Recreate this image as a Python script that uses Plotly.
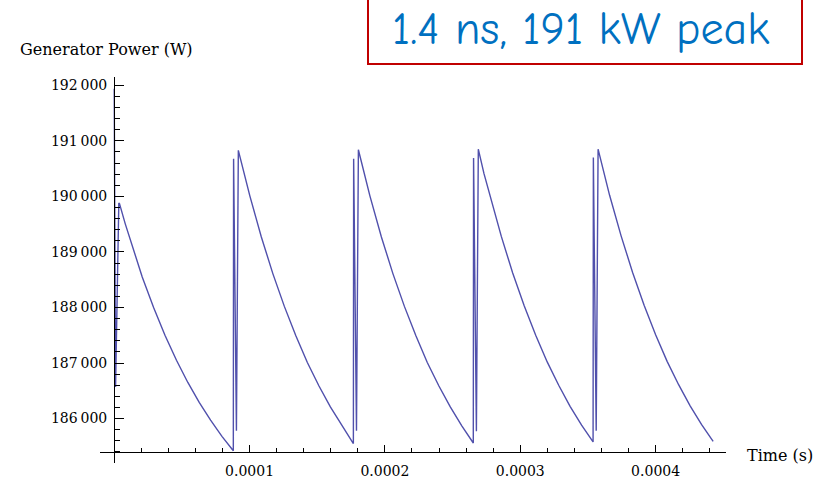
import plotly.graph_objects as go

# ---- data (time in microseconds, power in W) ----
time_us = [
    0.0, 1.0, 3.4,
    3.9, 8.1, 12.3, 20.7, 29.1, 37.5, 46.0, 54.4, 62.8, 71.2, 79.6, 88.0,
    88.2, 90.3,
    91.7, 96.0, 100.2, 108.7, 117.2, 125.7, 134.2, 142.7, 151.2, 159.7, 168.2, 176.7,
    176.9, 179.0,
    180.4, 184.6, 188.9, 197.4, 205.9, 214.4, 222.9, 231.3, 239.8, 248.3, 256.8, 265.3,
    265.5, 267.6,
    269.0, 273.2, 277.5, 286.0, 294.4, 302.9, 311.4, 319.9, 328.4, 336.8, 345.3, 353.8,
    354.0, 356.1,
    357.5, 361.8, 366.0, 374.5, 383.0, 391.5, 400.0, 408.5, 417.0, 425.5, 434.0, 442.5,
]
power_w = [
    191940, 186570, 189880,
    189870, 189510, 189180, 188550, 188000, 187500, 187050, 186650, 186290, 185970, 185680, 185420,
    190680, 185780,
    190830, 190400, 190010, 189270, 188610, 188020, 187490, 187010, 186590, 186210, 185870, 185550,
    190680, 185780,
    190840, 190410, 190010, 189270, 188610, 188020, 187490, 187010, 186590, 186210, 185870, 185560,
    190690, 185770,
    190850, 190410, 190020, 189280, 188620, 188030, 187500, 187020, 186600, 186220, 185880, 185580,
    190700, 185780,
    190850, 190420, 190020, 189290, 188630, 188040, 187510, 187030, 186610, 186230, 185890, 185590,
]

x_tick_vals = [0.0001, 0.0002, 0.0003, 0.0004]
x_tick_text = ["0.0001", "0.0002", "0.0003", "0.0004"]
y_tick_vals = [186000, 187000, 188000, 189000, 190000, 191000, 192000]
y_tick_text = ["186\u2009000", "187\u2009000", "188\u2009000", "189\u2009000",
               "190\u2009000", "191\u2009000", "192\u2009000"]

title_text = "1.4 ns, 191 kW peak"
y_label = "Generator Power (W)"
x_label = "Time (s)"

time_s = [t * 1e-6 for t in time_us]

X_RANGE = [-0.0000105, 0.000452]
Y_RANGE = [185200, 192150]

fig = go.Figure()
fig.add_trace(go.Scatter(
    x=time_s, y=power_w, mode="lines",
    line=dict(color="#5050ac", width=1.4),
    hoverinfo="skip", showlegend=False,
))

serif = "DejaVu Serif, Liberation Serif, serif"
tick_font = dict(family=serif, size=14, color="black")

fig.update_layout(
    width=824, height=483,
    margin=dict(l=100, r=98, t=77, b=20),
    paper_bgcolor="white", plot_bgcolor="white",
    xaxis=dict(
        range=X_RANGE, anchor="free", automargin=False,
        position=(185400 - Y_RANGE[0]) / (Y_RANGE[1] - Y_RANGE[0]),
        showline=True, linecolor="black", linewidth=1.4,
        showgrid=False, zeroline=False,
        tickmode="array", tickvals=x_tick_vals, ticktext=x_tick_text,
        ticks="inside", ticklen=7, tickwidth=1.3, tickcolor="black",
        minor=dict(tickmode="linear", tick0=0, dtick=0.00002,
                   ticks="inside", ticklen=4, tickwidth=1.3, tickcolor="black",
                   showgrid=False),
        tickfont=tick_font, ticklabelstandoff=6,
    ),
    yaxis=dict(
        range=Y_RANGE, anchor="free", automargin=False,
        position=(0 - X_RANGE[0]) / (X_RANGE[1] - X_RANGE[0]),
        showline=True, linecolor="black", linewidth=1.4,
        showgrid=False, zeroline=False,
        tickmode="array", tickvals=y_tick_vals, ticktext=y_tick_text,
        ticks="inside", ticklen=9, tickwidth=1.3, tickcolor="black",
        minor=dict(tickmode="linear", tick0=185000, dtick=200,
                   ticks="inside", ticklen=5, tickwidth=1.3, tickcolor="black",
                   showgrid=False),
        tickfont=tick_font, ticklabelstandoff=4,
    ),
    shapes=[dict(
        type="rect", xref="paper", yref="paper",
        x0=(368 - 100) / 626, x1=(802 - 100) / 626,
        y0=(463 - 64) / 386, y1=(463 + 5) / 386,
        line=dict(color="#c00000", width=2), fillcolor="rgba(0,0,0,0)",
    )],
    annotations=[
        dict(text=title_text, xref="paper", yref="paper",
             x=(581 - 100) / 626, y=(463 - 29) / 386,
             xanchor="center", yanchor="middle", showarrow=False,
             font=dict(family="Comic Neue, Comic Sans MS, Noto Sans", size=46, color="#0070c0")),
        dict(text=y_label, xref="paper", yref="paper",
             x=(18 - 100) / 626, y=(463 - 50) / 386,
             xanchor="left", yanchor="middle", showarrow=False,
             font=dict(family=serif, size=16, color="black")),
        dict(text=x_label, xref="paper", yref="paper",
             x=(745 - 100) / 626, y=(463 - 455) / 386,
             xanchor="left", yanchor="middle", showarrow=False,
             font=dict(family=serif, size=16, color="black")),
    ],
)

fig.write_html("out.html")
